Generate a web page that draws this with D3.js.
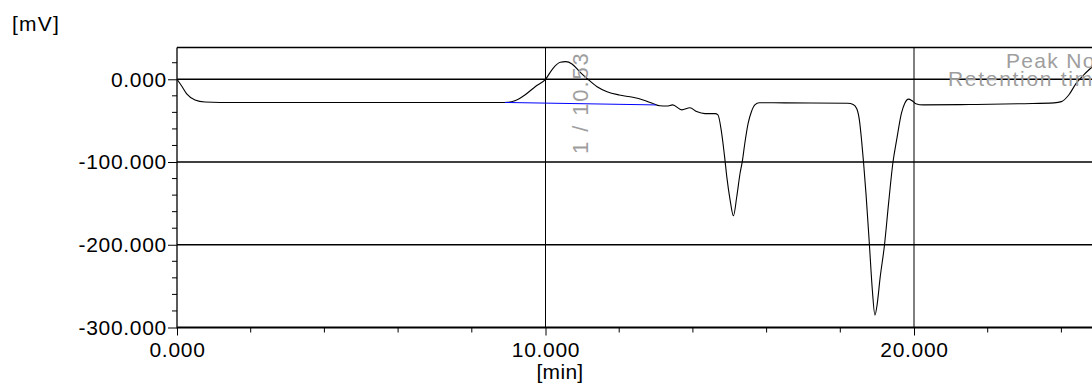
<!DOCTYPE html>
<html>
<head>
<meta charset="utf-8">
<script src="https://cdn.jsdelivr.net/npm/d3@7"></script>
<style>
  html, body { margin: 0; padding: 0; background: #fff; overflow: hidden; }
  svg { display: block; }
  text { font-family: "Liberation Sans", Arial, sans-serif; }
</style>
</head>
<body>
<svg id="chart" width="1092" height="387"></svg>
<script>
// Chromatogram trace: retention time [min] and detector signal [mV]
const timeMin = [
  0.00, 0.14, 0.27, 0.49, 0.76, 1.17, 4.00, 8.50, 8.90, 9.17, 9.44, 9.72,
  10.00, 10.20, 10.40, 10.55, 10.72, 10.93, 11.15, 11.40, 11.67, 12.00, 12.37, 12.65,
  12.90, 13.10, 13.30, 13.45, 13.70, 13.92, 14.10, 14.33, 14.60, 14.68, 14.78, 14.86,
  14.92, 15.01, 15.10, 15.19, 15.28, 15.34, 15.41, 15.50, 15.59, 15.68, 15.80, 16.50,
  18.20, 18.35, 18.45, 18.52, 18.58, 18.63, 18.70, 18.79, 18.87, 18.94, 19.00, 19.08,
  19.20, 19.31, 19.43, 19.53, 19.66, 19.75, 19.85, 19.95, 20.05, 20.25, 21.50, 23.00,
  23.80, 24.00, 24.20, 24.40, 24.60, 24.75, 24.90, 25.00
];
const signalMv = [
  0.0, -9.0, -18.0, -25.0, -27.5, -28.0, -28.0, -28.0, -28.0, -26.0, -19.0, -9.0,
  0.0, 13.0, 20.5, 21.3, 18.5, 9.0, 0.0, -9.0, -15.0, -19.0, -21.8, -25.0,
  -29.0, -32.0, -32.3, -31.0, -37.0, -34.5, -39.0, -41.5, -41.5, -43.0, -65.0, -93.5,
  -118.0, -146.0, -165.0, -142.0, -113.6, -99.6, -77.0, -53.0, -39.0, -31.0, -28.3, -28.5,
  -29.0, -30.5, -36.0, -50.0, -75.0, -100.0, -140.0, -200.0, -255.0, -285.0, -272.0, -240.0,
  -200.0, -150.0, -100.0, -73.0, -41.0, -29.0, -24.0, -26.0, -29.5, -31.0, -30.5, -29.5,
  -28.5, -27.0, -19.0, -5.0, 5.0, 11.5, 17.0, 20.0
];

// Integration baseline under peak 1
const baselineTime = [8.9, 13.0];
const baselineMv = [-28.0, -31.0];

// Peak annotations
const peakNo = [1];
const peakRt = [10.53];

// Axis ticks
const xMajorTicks = [0, 10, 20];
const xMinorTicks = [2, 4, 6, 8, 12, 14, 16, 18, 22, 24];
const yMajorTicks = [0, -100, -200, -300];
const yMinorTicks = [20, -20, -40, -60, -80, -120, -140, -160, -180, -220, -240, -260, -280];
const xTickLabels = ["0.000", "10.000", "20.000"];
const yTickLabels = ["0.000", "-100.000", "-200.000", "-300.000"];

const svg = d3.select("#chart");
const plotLeft = 177, plotTop = 47.5, plotBottom = 327.5;

const x = d3.scaleLinear().domain([0, 25]).range([plotLeft, plotLeft + 25 * 36.85]);
const y = d3.scaleLinear().domain([-300, 38.4]).range([plotBottom, plotTop]);
const plotRight = x(25);

const ink = "#000";
const labelFont = "'Liberation Sans', Arial, sans-serif";

// frame: top border
svg.append("line").attr("x1", plotLeft).attr("x2", plotRight).attr("y1", plotTop).attr("y2", plotTop)
  .attr("stroke", ink).attr("stroke-width", 1.3);

// horizontal grid lines
svg.append("g").selectAll("line").data(yMajorTicks.filter(d => d > -300)).join("line")
  .attr("x1", plotLeft).attr("x2", plotRight)
  .attr("y1", d => y(d)).attr("y2", d => y(d))
  .attr("stroke", ink).attr("stroke-width", 1.3);

// vertical grid lines
svg.append("g").selectAll("line").data(xMajorTicks.filter(d => d > 0)).join("line")
  .attr("x1", d => x(d)).attr("x2", d => x(d))
  .attr("y1", plotTop).attr("y2", plotBottom)
  .attr("stroke", ink).attr("stroke-width", 1);

// left axis
const yAxis = d3.axisLeft(y).tickValues(yMajorTicks).tickSize(9).tickPadding(1)
  .tickFormat((d, i) => yTickLabels[i]);
const gy = svg.append("g").attr("transform", `translate(${plotLeft},0)`).call(yAxis);
gy.select(".domain").remove();
gy.append("line").attr("x1", 0).attr("x2", 0).attr("y1", plotTop).attr("y2", plotBottom + 1)
  .attr("stroke", ink).attr("stroke-width", 1.3);
gy.selectAll(".tick line").attr("stroke", ink).attr("stroke-width", 1);
gy.selectAll(".tick text").attr("font-size", 21).attr("fill", "#000")
  .attr("font-family", labelFont).attr("letter-spacing", 0.7);
gy.selectAll(".minor").data(yMinorTicks).join("line").attr("class", "minor")
  .attr("x1", -5).attr("x2", 0).attr("y1", d => y(d)).attr("y2", d => y(d))
  .attr("stroke", ink).attr("stroke-width", 1);

// bottom axis
const xAxis = d3.axisBottom(x).tickValues(xMajorTicks).tickSize(8).tickPadding(7)
  .tickFormat((d, i) => xTickLabels[i]);
const gx = svg.append("g").attr("transform", `translate(0,${plotBottom})`).call(xAxis);
gx.select(".domain").remove();
gx.append("line").attr("x1", plotLeft).attr("x2", plotRight).attr("y1", 0).attr("y2", 0)
  .attr("stroke", ink).attr("stroke-width", 2);
gx.selectAll(".tick line").attr("stroke", ink).attr("stroke-width", 1);
gx.selectAll(".tick text").attr("font-size", 21).attr("fill", "#000")
  .attr("font-family", labelFont).attr("letter-spacing", 0.7);
gx.selectAll(".minor").data(xMinorTicks).join("line").attr("class", "minor")
  .attr("x1", d => x(d)).attr("x2", d => x(d)).attr("y1", 0).attr("y2", 5)
  .attr("stroke", ink).attr("stroke-width", 1);

// axis unit labels
svg.append("text").attr("x", 12).attr("y", 31).attr("font-size", 21).attr("letter-spacing", 1.2)
  .text("[mV]");
svg.append("text").attr("x", 560).attr("y", 379).attr("font-size", 21).attr("letter-spacing", 0.3)
  .attr("text-anchor", "middle").text("[min]");

// signal trace
const plot = svg.append("g");
const pts = timeMin.map((t, i) => [t, signalMv[i]]);
plot.append("path").datum(pts)
  .attr("fill", "none").attr("stroke", "#000").attr("stroke-width", 1.1)
  .attr("d", d3.line().x(d => x(d[0])).y(d => y(d[1])).curve(d3.curveMonotoneX));

// integration baseline
plot.append("line")
  .attr("x1", x(baselineTime[0])).attr("x2", x(baselineTime[1]))
  .attr("y1", y(baselineMv[0])).attr("y2", y(baselineMv[1]))
  .attr("stroke", "#0000ff").attr("stroke-width", 1);

// peak label, rotated
const gray = "#9e9e9e";
peakNo.forEach((n, i) => {
  const px = x(peakRt[i]) + 23, py = 154;
  svg.append("text")
    .attr("transform", `translate(${px},${py}) rotate(-90)`)
    .attr("font-size", 22).attr("fill", gray).attr("letter-spacing", 1.9)
    .text(`${n} / ${peakRt[i].toFixed(2)}`);
});

// annotation legend
svg.append("text").attr("x", 1006).attr("y", 67.5).attr("font-size", 21)
  .attr("fill", gray).attr("letter-spacing", 1.3).text("Peak No");
svg.append("text").attr("x", 948).attr("y", 86).attr("font-size", 21)
  .attr("fill", gray).attr("letter-spacing", 1.7).text("Retention time");
</script>
</body>
</html>
